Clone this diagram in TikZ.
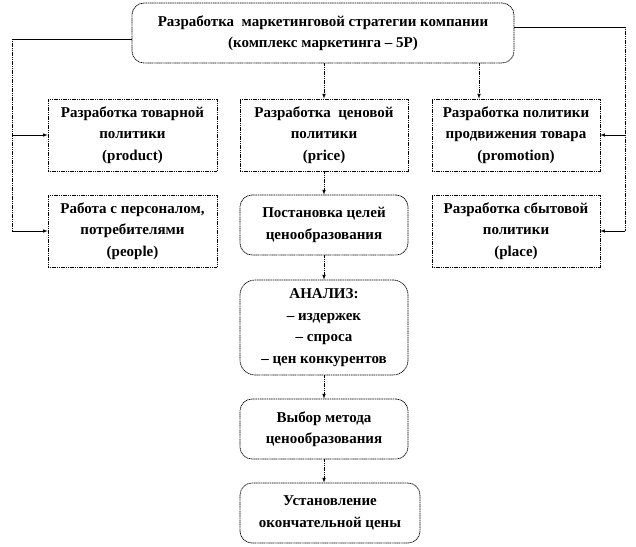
\documentclass[tikz,border=0pt]{standalone}
\usepackage{fontspec}
\setmainfont{Liberation Serif}
\usetikzlibrary{positioning}

\begin{document}
\begin{tikzpicture}[x=1pt,y=-1pt]
        \tikzstyle{every node}=[draw,dash pattern=on 1.2pt off 0.6pt,line width=0.7pt,align=center,inner sep=2pt,font=\fontsize{15}{21.5}\selectfont\bfseries]
        \tikzstyle{plain}=[minimum width=169pt, minimum height=72pt]
        \tikzstyle{round}=[minimum width=168pt, minimum height=60pt, rounded corners=12pt]
        \tikzstyle{hline}=[solid,line width=0.6pt]
        \tikzstyle{vline}=[dash pattern=on 1.2pt off 0.6pt,line width=0.7pt]
        \useasboundingbox (0,0) rectangle (636,546);
        % top
        \node[round, minimum width=382pt] (strat) at (323,33) {Разработка \ маркетинговой стратегии компании\\(комплекс маркетинга -- 5Р)};
        % row 1
        \node[plain] (product) at (132.5,135) {Разработка товарной\\политики\\(product)};
        \node[plain, minimum width=168pt] (price) at (324,135) {Разработка \ ценовой\\политики\\(price)};
        \node[plain, minimum width=168pt] (promo) at (516,135) {Разработка политики\\продвижения товара\\(promotion)};
        % row 2
        \node[plain] (people) at (132.5,231) {Работа с персоналом,\\потребителями\\(people)};
        \node[round] (goals) at (324,225) {Постановка целей\\ценообразования};
        \node[plain, minimum width=168pt] (place) at (516,231) {Разработка сбытовой\\политики\\(place)};
        % price chain
        \node[round, minimum height=95pt, rounded corners=15pt] (anal) at (324,327.5) {АНАЛИЗ:\\-- издержек\\-- спроса\\-- цен конкурентов};
        \node[round] (method) at (324,429) {Выбор метода\\ценообразования};
        \node[round, minimum width=180pt] (final) at (330,513) {Установление\\окончательной цены};
        % left side
        \coordinate (bendL) at (12,39);
        \draw[hline] (strat.west |- bendL) -- (bendL);
        \draw[vline] (bendL) -- (bendL |- people.west);
        \draw[hline,-latex] (bendL |- product.west) -- (product.west);
        \draw[hline,-latex] (bendL |- people.west) -- (people.west);
        % right side
        \coordinate (bendR) at (625,27);
        \draw[hline] (strat.east |- bendR) -- (bendR);
        \draw[vline] (bendR) -- (bendR |- place.east);
        \draw[hline,-latex] (bendR |- promo.east) -- (promo.east);
        \draw[hline,-latex] (bendR |- place.east) -- (place.east);
        % down
        \draw[vline,-latex] (strat.south -| price.north) -- (price.north);
        \draw[vline,-latex] ([xshift=-37pt]promo.north |- strat.south) -- ([xshift=-37pt]promo.north);
        \draw[vline,-latex] (price) -- (goals);
        \draw[vline,-latex] (goals) -- (anal);
        \draw[vline,-latex] (anal) -- (method);
        \draw[vline,-latex] (method.south) -- (method.south |- final.north);
    \end{tikzpicture}
\end{document}
